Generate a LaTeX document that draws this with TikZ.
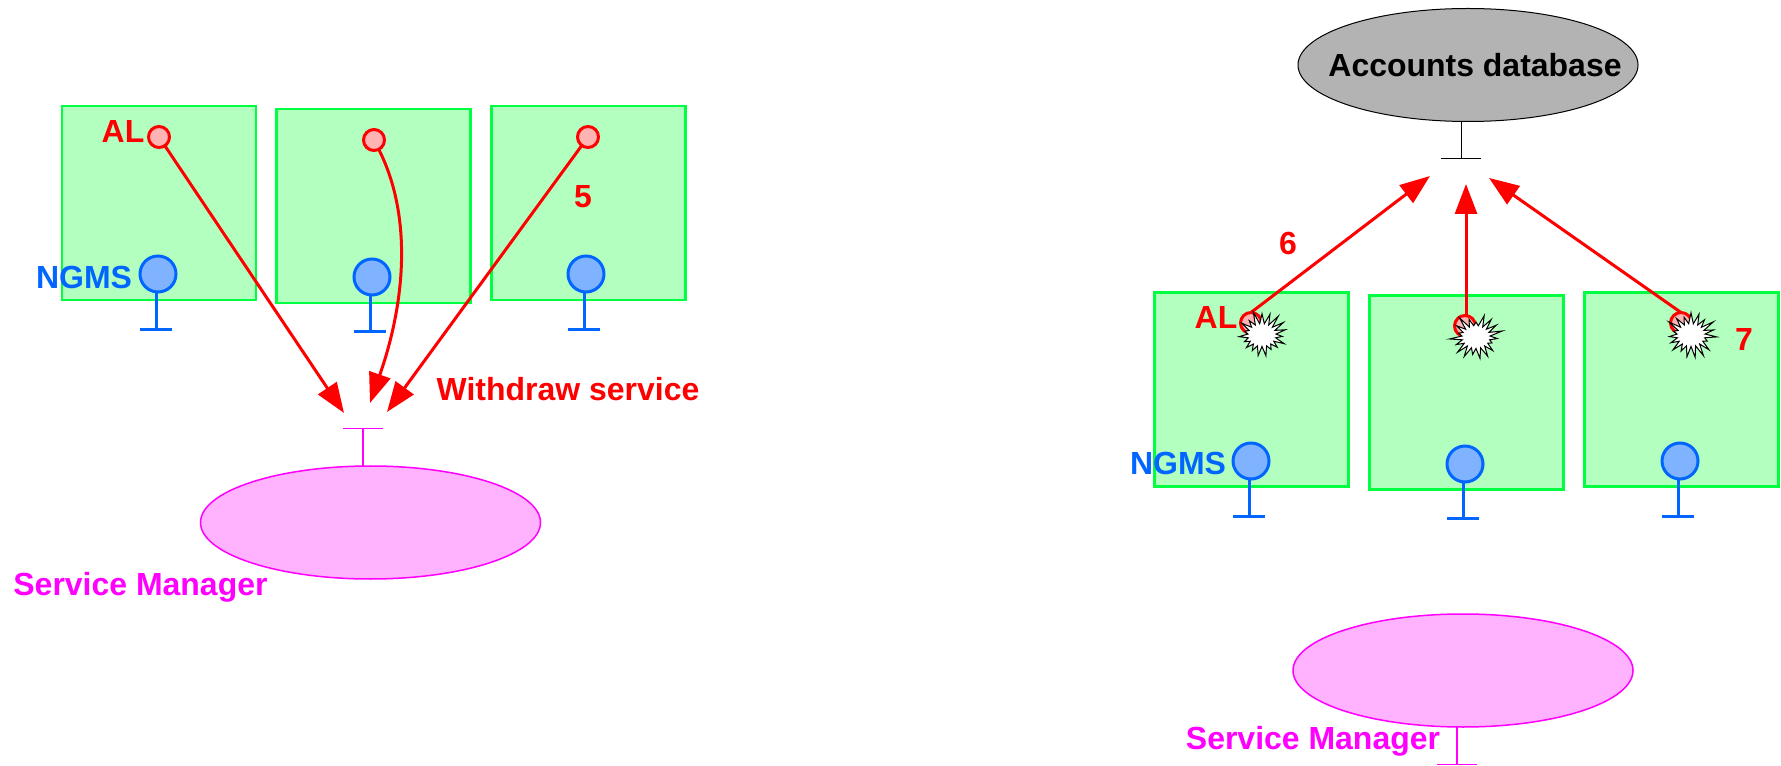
\documentclass[tikz,border=0pt]{standalone}
\usepackage{fontspec}
\setmainfont{Liberation Sans}
\usetikzlibrary{arrows.meta, shapes.geometric, shapes.symbols}
\definecolor{boxfill}{HTML}{B3FFBF}
\definecolor{boxline}{HTML}{00FF40}
\definecolor{ngmsblue}{HTML}{0066FF}
\definecolor{ngmsfill}{HTML}{80B3FF}
\definecolor{alfill}{HTML}{FFB3B3}
\definecolor{smline}{HTML}{FF00FF}
\definecolor{smfill}{HTML}{FFB3FF}
\definecolor{dbfill}{HTML}{B3B3B3}
\def\px{0.02cm}
\tikzset{
  every node/.style={inner sep=0pt, outer sep=0pt},
  label/.style={font=\fontsize{18.2}{20}\selectfont\bfseries},
  host/.style={draw=boxline, fill=boxfill, line width=2.5*\px, minimum width=194*\px, minimum height=194*\px},
  al/.style={circle, draw=red, fill=alfill, line width=3*\px, minimum size=21*\px},
  ngms/.style={circle, draw=ngmsblue, fill=ngmsfill, line width=3*\px, minimum size=36*\px},
  blast/.style={starburst, draw=black, fill=white, line width=1*\px, starburst points=19, starburst point height=7.5pt, minimum width=31pt, minimum height=28pt},
  stem/.style={draw=ngmsblue, line width=3*\px, -{Bar[width=32*\px, line width=3*\px]}},
  smstem/.style={draw=smline, line width=1.5*\px, -{Bar[width=40*\px, line width=1.5*\px]}},
  dbstem/.style={draw=black, line width=1*\px, -{Bar[width=40*\px, line width=1*\px]}},
  sm/.style={ellipse, draw=smline, fill=smfill, line width=1.5*\px, minimum width=340*\px, minimum height=113*\px},
  flow/.style={draw=red, line width=3*\px, -{Triangle[length=30*\px, width=22*\px]}}
}
\begin{document}
\begin{tikzpicture}[x=\px, y=-\px]
  \useasboundingbox (0,0) rectangle (1781,766);

  % Left side: hosts
  \foreach \n/\x/\y in {a/159/203, b/373.5/206, c/588.5/203} {
    \node[host] (host\n) at (\x,\y) {};
  }
  \foreach \n/\x/\y in {a/159/137, b/374/140, c/588/137} {
    \node[al] (al\n) at (\x,\y) {};
  }
  \foreach \n/\x/\y/\t in {a/158/274/330, b/372/277/332, c/586/274/330} {
    \node[ngms] (ngms\n) at (\x,\y) {};
    \coordinate (t\n) at (\x-2,\t+1);
    \draw[stem] (ngms\n.south -| t\n) -- (t\n);
  }
  \node[label, red] (allabel) at (123,132) {AL};
  \node[label, ngmsblue] (ngmslabel) at (84,277) {NGMS};

  % Left side: Service Manager
  \node[sm] (mgr) at (370.5,522.5) {};
  \coordinate (mgrbar) at (363,428);
  \draw[smstem] (mgr.north -| mgrbar) -- (mgrbar);
  \node[label, smline] (mgrlabel) at (140.5,587) {Service Manager};

  % Withdraw arrows
  \coordinate (enda) at (344,413);
  \coordinate (endb) at (370,403);
  \coordinate (endc) at (387,412);
  \draw[flow] (ala) -- (enda);
  \draw[flow] (alb) .. controls (412,215) and (406,300) .. (endb);
  \draw[flow] (alc) -- (endc);
  \node[label, red] (withdraw) at (568,389) {Withdraw service};
  \node[label, red] (five) at (583,197) {5};

  % Right side: database
  \node[ellipse, draw=black, fill=dbfill, line width=1*\px, minimum width=340*\px, minimum height=113*\px] (db) at (1468,65) {};
  \node[label] (dblabel) at (1475,65) {Accounts database};
  \coordinate (dbbar) at (1461,159);
  \draw[dbstem] (db.south -| dbbar) -- (dbbar);

  % Right side: hosts
  \foreach \n/\x/\y in {d/1251.5/389.5, e/1466.5/392.5, f/1681.5/389.5} {
    \node[host] (host\n) at (\x,\y) {};
  }
  \foreach \n/\x/\y in {d/1251/323, e/1465/326, f/1681/323} {
    \node[al] (al\n) at (\x,\y) {};
  }
  \foreach \n/\x/\y/\t in {d/1251/461/517, e/1465/464/519, f/1680/461/517} {
    \node[ngms] (ngms\n) at (\x,\y) {};
    \coordinate (t\n) at (\x-2,\t+1);
    \draw[stem] (ngms\n.south -| t\n) -- (t\n);
  }
  \node[label, red] (alrlabel) at (1216,318) {AL};
  \node[label, ngmsblue] (ngmsrlabel) at (1178,463) {NGMS};

  % Account arrows
  \coordinate (endd) at (1430,176);
  \coordinate (ende) at (1466,184);
  \coordinate (endf) at (1489,178);
  \draw[flow] (ald.north) -- (endd);
  \draw[flow] (ale.north -| ende) -- (ende);
  \draw[flow] (alf.north) -- (endf);
  \node[label, red] (six) at (1288,243) {6};
  \node[label, red] (seven) at (1744,340) {7};

  % Crashes
  \node[blast, random starburst=11] (blastd) at (1262,335) {};
  \node[blast, random starburst=23] (blaste) at (1476,337) {};
  \node[blast, random starburst=37] (blastf) at (1691,335) {};

  % Right side: Service Manager
  \node[sm] (mgrr) at (1463,670.5) {};
  \coordinate (mgrrbar) at (1457,765);
  \draw[smstem] (mgrr.south -| mgrrbar) -- (mgrrbar);
  \node[label, smline] (mgrrlabel) at (1313,741) {Service Manager};
\end{tikzpicture}
\end{document}
